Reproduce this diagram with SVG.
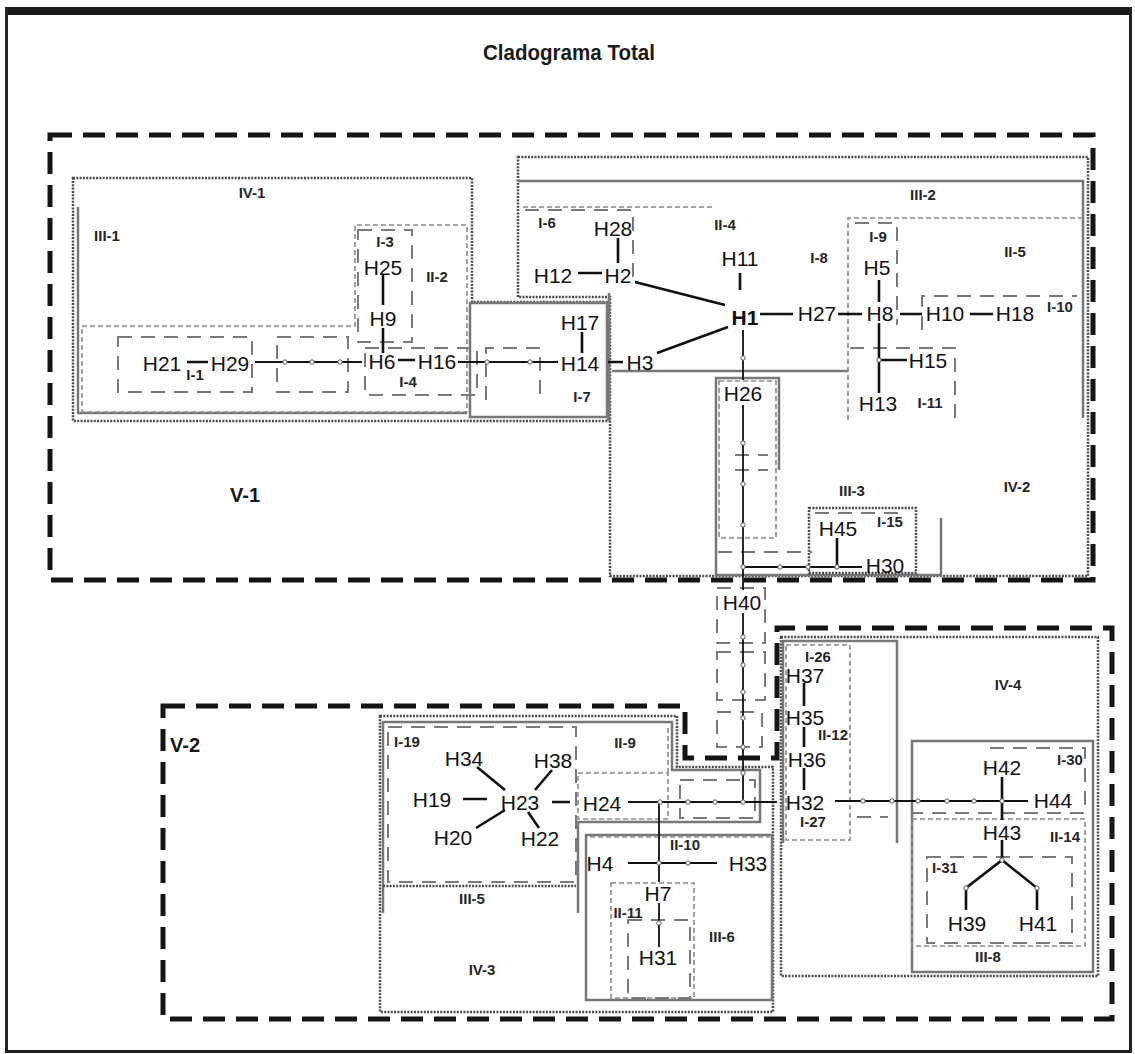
<svg xmlns="http://www.w3.org/2000/svg" width="1135" height="1054" viewBox="0 0 1135 1054">
<style>
.v{fill:none;stroke:#151515;stroke-width:5;stroke-dasharray:22 11}
.iv{fill:none;stroke:#4a4a4a;stroke-width:2.5;stroke-dasharray:2 1.3}
.iii{fill:none;stroke:#777;stroke-width:2.5}
.ii{fill:none;stroke:#8a8a8a;stroke-width:1.6;stroke-dasharray:5 3}
.i{fill:none;stroke:#7a7a7a;stroke-width:2;stroke-dasharray:14 9}
.lbl{font-family:"Liberation Sans",Arial,sans-serif;font-weight:bold;font-size:15px;fill:#262626;text-anchor:middle}
.big{font-family:"Liberation Sans",Arial,sans-serif;font-weight:bold;font-size:20px;fill:#151515;text-anchor:middle}
.n{font-family:"Liberation Sans",Arial,sans-serif;font-size:21px;fill:#111;text-anchor:middle}
.e{stroke:#111;stroke-width:2.6;fill:none}
.t{stroke:#111;stroke-width:1.8;fill:none}
.d{fill:#fff;stroke:#555;stroke-width:1}
</style>
<rect x="0" y="0" width="1135" height="1054" fill="#fff"/>
<g id="frame">
<rect x="5" y="7" width="1127" height="8" fill="#1a1a1a"/>
<path d="M6.5,7 V1051.5 H1130.5 V7" fill="none" stroke="#222" stroke-width="3"/>
<text x="569" y="60" font-family="'Liberation Sans',Arial,sans-serif" font-weight="bold" font-size="22" fill="#1a1a1a" text-anchor="middle" textLength="172" lengthAdjust="spacingAndGlyphs">Cladograma Total</text>
</g>
<g id="regions">
<g id="V-1"><rect class="v" x="50" y="135" width="1043" height="445"/><text class="big" x="245" y="502">V-1</text></g>
<g id="V-2"><polygon class="v" points="163,706 685,706 685,758 777,758 777,628 1112,628 1112,1019 163,1019"/><text class="big" x="185" y="752">V-2</text></g>
<g id="IV-1"><polygon class="iv" points="73,178 472,178 472,302 608,302 608,421 73,421"/><text class="lbl" x="252" y="198">IV-1</text></g>
<g id="IV-2"><polygon class="iv" points="518,157 1088,157 1088,576 610,576 610,297 518,297"/><text class="lbl" x="1017" y="492">IV-2</text></g>
<g id="IV-3"><polygon class="iv" points="380,716 677,716 677,767 773,767 773,1012 380,1012"/><text class="lbl" x="482" y="975">IV-3</text></g>
<g id="IV-4"><rect class="iv" x="781" y="637" width="317" height="339"/><text class="lbl" x="1008" y="690">IV-4</text></g>
<g id="III-1"><polyline class="iii" points="78,207 78,413 467,413"/><text class="lbl" x="107" y="241">III-1</text></g>
<g id="III-1b"><rect class="iii" x="470" y="303" width="137" height="114" stroke-width="1.8"/></g>
<g id="III-2"><polyline class="iii" points="518,181 1083,181 1083,418"/><polyline class="iii" points="612,371 848,371"/><line class="iii" x1="609" y1="293" x2="609" y2="421"/><text class="lbl" x="923" y="200">III-2</text></g>
<g id="III-3"><polyline class="iii" points="941,518 941,575 716,575 716,378 779,378 779,470"/><text class="lbl" x="852" y="496">III-3</text></g>
<g id="III-5"><polyline class="iii" points="383,913 383,722 672,722 672,770 760,770 760,822 578,822 578,913"/><text class="lbl" x="472" y="904">III-5</text></g>
<g id="III-6"><rect class="iii" x="586" y="835" width="186" height="165"/><text class="lbl" x="722" y="942">III-6</text></g>
<g id="III-7"><polyline class="iii" points="783,843 783,641 897,641 897,843"/></g>
<g id="III-8"><rect class="iii" x="912" y="741" width="181" height="231"/><text class="lbl" x="988" y="962">III-8</text></g>
<g id="II-2"><polygon class="ii" points="82,326 355,326 355,225 467,225 467,412 82,412"/><text class="lbl" x="437" y="282">II-2</text></g>
<g id="II-4"><polyline class="ii" points="523,207 712,207"/><text class="lbl" x="725" y="230">II-4</text></g>
<g id="II-5"><polyline class="ii" points="848,420 848,218 1083,218"/><text class="lbl" x="1015" y="257">II-5</text></g>
<g id="II-9"><rect class="ii" x="578" y="773" width="90" height="46"/><line class="ii" x1="668" y1="728" x2="668" y2="773"/><text class="lbl" x="625" y="748">II-9</text></g>
<g id="II-10"><line class="ii" x1="590" y1="837" x2="770" y2="837"/><text class="lbl" x="685" y="850">II-10</text></g>
<g id="II-11"><rect class="ii" x="611" y="883" width="83" height="115"/><rect class="i" x="628" y="920" width="62" height="78"/><text class="lbl" x="628" y="918">II-11</text></g>
<g id="II-12"><rect class="ii" x="786" y="645" width="64" height="195"/><text class="lbl" x="833" y="740">II-12</text></g>
<g id="II-14"><rect class="ii" x="912" y="819" width="173" height="127"/><text class="lbl" x="1065" y="842">II-14</text></g>
<g id="I-1"><rect class="i" x="118" y="337" width="134" height="55"/><text class="lbl" x="195" y="380">I-1</text></g>
<g id="I-2"><rect class="i" x="277" y="337" width="71" height="55"/></g>
<g id="I-3"><rect class="i" x="358" y="230" width="54" height="112"/><text class="lbl" x="385" y="247">I-3</text></g>
<g id="I-4"><rect class="i" x="365" y="348" width="112" height="47"/><text class="lbl" x="408" y="387">I-4</text></g>
<g id="I-5"><polyline class="i" points="486,400 486,348 540,348 540,395"/></g>
<g id="I-6"><polyline class="i" points="525,210 633,210 633,282"/><text class="lbl" x="547" y="228">I-6</text></g>
<g id="I-7"><text class="lbl" x="582" y="402">I-7</text></g>
<g id="I-8"><text class="lbl" x="819" y="263">I-8</text></g>
<g id="I-9"><polyline class="i" points="855,223 897,223 897,325"/><text class="lbl" x="878" y="242">I-9</text></g>
<g id="I-10"><polyline class="i" points="922,330 922,296 1077,296"/><text class="lbl" x="1060" y="312">I-10</text></g>
<g id="I-11"><polyline class="i" points="850,348 955,348 955,418"/><text class="lbl" x="930" y="408">I-11</text></g>
<g id="I-12"><rect class="ii" x="719" y="381" width="57" height="157"/><line class="i" x1="735" y1="455" x2="768" y2="455"/><line class="i" x1="735" y1="470" x2="768" y2="470"/><line class="i" x1="718" y1="552" x2="812" y2="552"/></g>
<g id="I-15"><rect class="iv" x="809" y="508" width="107" height="65" stroke-width="1.5"/><line class="i" x1="815" y1="513" x2="900" y2="513"/><text class="lbl" x="890" y="527">I-15</text></g>
<g id="I-16"><rect class="i" x="717" y="588" width="48" height="55"/><rect class="i" x="717" y="652" width="48" height="48"/><rect class="i" x="717" y="712" width="45" height="35"/></g>
<g id="I-19"><rect class="i" x="388" y="727" width="188" height="155"/><line class="iv" x1="383" y1="886" x2="576" y2="886" stroke-width="1.5"/><text class="lbl" x="407" y="747">I-19</text></g>
<g id="I-20"><rect class="i" x="680" y="780" width="75" height="38"/></g>
<g id="I-26"><text class="lbl" x="818" y="662">I-26</text></g>
<g id="I-27"><text class="lbl" x="813" y="827">I-27</text><line class="i" x1="857" y1="817" x2="888" y2="817"/></g>
<g id="I-30"><polyline class="i" points="990,748 1085,748 1085,813 912,813"/><text class="lbl" x="1070" y="765">I-30</text></g>
<g id="I-31"><rect class="i" x="927" y="857" width="145" height="86"/><text class="lbl" x="945" y="873">I-31</text></g>
</g>
<g id="connectors">
<path class="e" d="M187,362 H208 M383,275 V305 M383,328 V353 M398,360 H415 M582,332 V353 M608,362 H623 M618,238 V263 M578,273 H602 M635,282 L725,305 M657,353 L728,327 M740,273 V290 M760,314 H793 M838,314 H862 M879,280 V302 M900,314 H922 M970,314 H993 M879,323 V393 M879,360 H907 M804,683 V706 M804,727 V747 M804,768 V790 M477,767 L505,790 M552,770 L535,790 M463,799 H487 M476,828 L505,810 M528,812 L539,828 M552,802 H570 M1002,777 V820 M1002,840 V860 L966,888 V910 M1002,860 L1037,888 V910 M837,538 V567"/>
<path class="t" d="M255,362 H362 M458,362 H558 M743,330 V380 M743,405 V590 M743,613 V802 M743,567 H862 M628,802 H777 M835,801 H1028 M659,802 V882 M628,863 H717 M659,903 V947"/>
<g class="d">
<circle cx="285" cy="362" r="2.2"/><circle cx="312" cy="362" r="2.2"/><circle cx="340" cy="362" r="2.2"/>
<circle cx="487" cy="362" r="2.2"/><circle cx="530" cy="362" r="2.2"/>
<circle cx="743" cy="358" r="2.2"/><circle cx="743" cy="443" r="2.2"/><circle cx="743" cy="484" r="2.2"/><circle cx="743" cy="525" r="2.2"/><circle cx="743" cy="567" r="2.2"/>
<circle cx="780" cy="567" r="2.2"/><circle cx="808" cy="567" r="2.2"/><circle cx="837" cy="567" r="2.2"/>
<circle cx="743" cy="637" r="2.2"/><circle cx="743" cy="665" r="2.2"/><circle cx="743" cy="692" r="2.2"/><circle cx="743" cy="718" r="2.2"/><circle cx="743" cy="747" r="2.2"/><circle cx="743" cy="773" r="2.2"/>
<circle cx="660" cy="802" r="2.2"/><circle cx="688" cy="802" r="2.2"/><circle cx="715" cy="802" r="2.2"/><circle cx="743" cy="802" r="2.2"/>
<circle cx="863" cy="801" r="2.2"/><circle cx="892" cy="801" r="2.2"/><circle cx="918" cy="801" r="2.2"/><circle cx="947" cy="801" r="2.2"/><circle cx="974" cy="801" r="2.2"/><circle cx="1002" cy="801" r="2.2"/>
<circle cx="659" cy="863" r="2.2"/><circle cx="688" cy="863" r="2.2"/><circle cx="659" cy="923" r="2.2"/>
<circle cx="879" cy="360" r="2.2"/><circle cx="1002" cy="860" r="2.2"/><circle cx="966" cy="888" r="2.2"/><circle cx="1037" cy="888" r="2.2"/>
</g>
</g>
<g id="nodes">
<g id="H25"><text class="n" x="383" y="275">H25</text></g>
<g id="H9"><text class="n" x="383" y="326">H9</text></g>
<g id="H6"><text class="n" x="382" y="369">H6</text></g>
<g id="H16"><text class="n" x="437" y="369">H16</text></g>
<g id="H21"><text class="n" x="162" y="371">H21</text></g>
<g id="H29"><text class="n" x="230" y="371">H29</text></g>
<g id="H14"><text class="n" x="580" y="371">H14</text></g>
<g id="H17"><text class="n" x="580" y="330">H17</text></g>
<g id="H3"><text class="n" x="640" y="370">H3</text></g>
<g id="H12"><text class="n" x="553" y="283">H12</text></g>
<g id="H2"><text class="n" x="618" y="283">H2</text></g>
<g id="H28"><text class="n" x="613" y="236">H28</text></g>
<g id="H1"><text class="n" x="745" y="325" font-weight="bold">H1</text></g>
<g id="H11"><text class="n" x="740" y="266">H11</text></g>
<g id="H27"><text class="n" x="817" y="321">H27</text></g>
<g id="H8"><text class="n" x="880" y="321">H8</text></g>
<g id="H5"><text class="n" x="877" y="275">H5</text></g>
<g id="H10"><text class="n" x="945" y="321">H10</text></g>
<g id="H18"><text class="n" x="1015" y="321">H18</text></g>
<g id="H15"><text class="n" x="928" y="368">H15</text></g>
<g id="H13"><text class="n" x="878" y="411">H13</text></g>
<g id="H26"><text class="n" x="743" y="401">H26</text></g>
<g id="H45"><text class="n" x="838" y="536">H45</text></g>
<g id="H30"><text class="n" x="885" y="573">H30</text></g>
<g id="H40"><text class="n" x="742" y="610">H40</text></g>
<g id="H24"><text class="n" x="602" y="811">H24</text></g>
<g id="H32"><text class="n" x="805" y="810">H32</text></g>
<g id="H37"><text class="n" x="805" y="683">H37</text></g>
<g id="H35"><text class="n" x="805" y="725">H35</text></g>
<g id="H36"><text class="n" x="807" y="767">H36</text></g>
<g id="H44"><text class="n" x="1053" y="808">H44</text></g>
<g id="H42"><text class="n" x="1002" y="775">H42</text></g>
<g id="H43"><text class="n" x="1002" y="840">H43</text></g>
<g id="H39"><text class="n" x="967" y="931">H39</text></g>
<g id="H41"><text class="n" x="1038" y="931">H41</text></g>
<g id="H34"><text class="n" x="464" y="766">H34</text></g>
<g id="H38"><text class="n" x="553" y="768">H38</text></g>
<g id="H19"><text class="n" x="432" y="807">H19</text></g>
<g id="H23"><text class="n" x="520" y="810">H23</text></g>
<g id="H20"><text class="n" x="453" y="845">H20</text></g>
<g id="H22"><text class="n" x="540" y="846">H22</text></g>
<g id="H4"><text class="n" x="600" y="871">H4</text></g>
<g id="H33"><text class="n" x="748" y="871">H33</text></g>
<g id="H7"><text class="n" x="658" y="901">H7</text></g>
<g id="H31"><text class="n" x="658" y="965">H31</text></g>
</g>
</svg>
